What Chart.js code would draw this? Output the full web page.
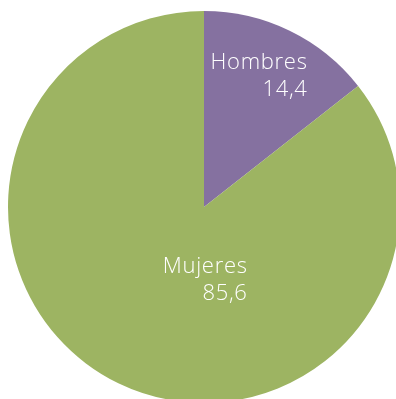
<!DOCTYPE html>
<html>
<head>
<meta charset="utf-8">
<script src="https://cdn.jsdelivr.net/npm/chart.js@4/dist/chart.umd.min.js"></script>
<style>
  html, body { margin: 0; padding: 0; background: #ffffff; overflow: hidden; width: 396px; height: 399px; }
  #wrap { position: absolute; left: 0; top: 0; width: 408px; height: 414px; }
</style>
</head>
<body>
<div id="wrap"><canvas id="chart" width="408" height="414"></canvas></div>
<script>
// Distribución por sexo (%)
const categories = ['Hombres', 'Mujeres'];
const values = [14.4, 85.6];
const valueLabels = ['14,4', '85,6'];
const sliceColors = ['#8571A0', '#9DB462'];

// Label block placement, as fractions of the pie radius from its centre:
// right edge of the text block and baseline of its first line.
const labelPlacement = [
  { right: 0.525, baseline: -0.704 },
  { right: 0.219, baseline: 0.337 }
];

const sliceLabels = {
  id: 'sliceLabels',
  afterDatasetsDraw(chart) {
    const ctx = chart.ctx;
    const meta = chart.getDatasetMeta(0);
    const spacing = 0.7;
    ctx.save();
    ctx.fillStyle = '#ffffff';
    ctx.font = '300 22px "Open Sans"';
    if ('letterSpacing' in ctx) ctx.letterSpacing = spacing + 'px';
    ctx.textAlign = 'right';
    ctx.textBaseline = 'alphabetic';
    meta.data.forEach((arc, i) => {
      const { x, y, outerRadius } = arc.getProps(['x', 'y', 'outerRadius'], true);
      const p = labelPlacement[i];
      const rx = x + p.right * outerRadius + spacing;
      const by = y + p.baseline * outerRadius;
      ctx.fillText(categories[i], rx, by);
      ctx.fillText(valueLabels[i], rx, by + 27);
    });
    ctx.restore();
  }
};

new Chart(document.getElementById('chart'), {
  type: 'pie',
  data: {
    labels: categories,
    datasets: [{
      data: values,
      backgroundColor: sliceColors,
      borderWidth: 0,
      radius: 196
    }]
  },
  options: {
    responsive: false,
    devicePixelRatio: 1,
    animation: false,
    layout: { padding: 0 },
    plugins: {
      legend: { display: false },
      tooltip: { enabled: false }
    }
  },
  plugins: [sliceLabels]
});
</script>
</body>
</html>
